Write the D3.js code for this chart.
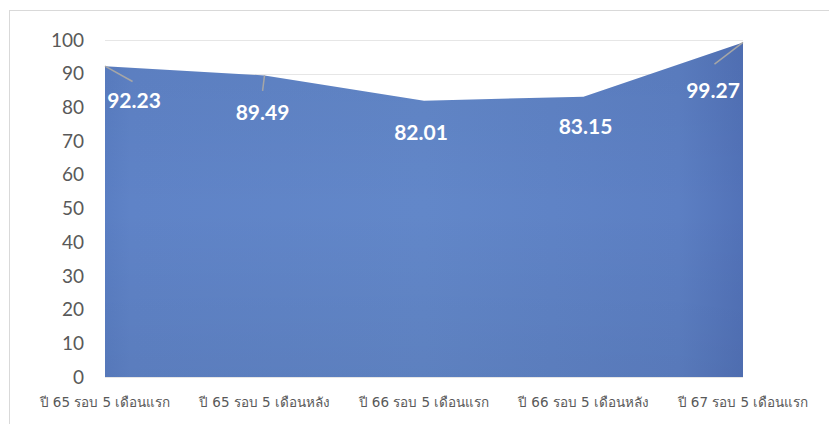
<!DOCTYPE html>
<html>
<head>
<meta charset="utf-8">
<script src="https://cdn.jsdelivr.net/npm/d3@7"></script>
<style>
  body { margin: 0; background: #fff; }
  svg { display: block; }
</style>
</head>
<body>
<svg width="829" height="424"></svg>
<script>
const categories = [
  "ปี 65 รอบ 5 เดือนแรก",
  "ปี 65 รอบ 5 เดือนหลัง",
  "ปี 66 รอบ 5 เดือนแรก",
  "ปี 66 รอบ 5 เดือนหลัง",
  "ปี 67 รอบ 5 เดือนแรก"
];
const values = [92.23, 89.49, 82.01, 83.15, 99.27];
const yTicks = [0, 10, 20, 30, 40, 50, 60, 70, 80, 90, 100];

// label placement (pixel offsets from the point) and whether a leader line is drawn
const labelOffsets = [[29, 34], [-2, 37], [-3, 32], [2, 30], [-30, 48]];
const leaders = [true, true, false, false, true];

const svg = d3.select("svg"),
      width = +svg.attr("width"),
      height = +svg.attr("height");

const margin = {left: 105, right: 86, top: 40, bottom: 47};

svg.append("rect")
  .attr("x", 9.5).attr("y", 10.5)
  .attr("width", width).attr("height", height)
  .attr("fill", "none")
  .attr("stroke", "#d9d9d9");

const x = d3.scalePoint()
  .domain(categories)
  .range([margin.left, width - margin.right]);

const y = d3.scaleLinear()
  .domain([0, 100])
  .range([height - margin.bottom, margin.top]);

const defs = svg.append("defs");
const grad = defs.append("linearGradient")
  .attr("id", "fill")
  .attr("x1", "0%").attr("x2", "100%")
  .attr("y1", "0%").attr("y2", "0%");
grad.append("stop").attr("offset", "0%").attr("stop-color", "#5a7ec3");
grad.append("stop").attr("offset", "4%").attr("stop-color", "#5f83c7");
grad.append("stop").attr("offset", "50%").attr("stop-color", "#6287c9");
grad.append("stop").attr("offset", "90%").attr("stop-color", "#5c7fc3");
grad.append("stop").attr("offset", "100%").attr("stop-color", "#5272b8");

const gradV = defs.append("linearGradient")
  .attr("id", "shade")
  .attr("x1", "0%").attr("x2", "0%")
  .attr("y1", "0%").attr("y2", "100%");
gradV.append("stop").attr("offset", "0%").attr("stop-color", "#000").attr("stop-opacity", 0.04);
gradV.append("stop").attr("offset", "50%").attr("stop-color", "#000").attr("stop-opacity", 0);
gradV.append("stop").attr("offset", "100%").attr("stop-color", "#000").attr("stop-opacity", 0.05);

// gridlines
svg.append("g")
  .selectAll("line")
  .data(yTicks)
  .enter().append("line")
  .attr("x1", margin.left)
  .attr("x2", width - margin.right)
  .attr("y1", d => Math.round(y(d)) + 0.5)
  .attr("y2", d => Math.round(y(d)) + 0.5)
  .attr("stroke", "#e6e6e6");

const area = d3.area()
  .x((d, i) => x(categories[i]))
  .y0(y(0))
  .y1(d => y(d));

svg.append("path")
  .datum(values)
  .attr("d", area)
  .attr("fill", "url(#fill)");

svg.append("path")
  .datum(values)
  .attr("d", area)
  .attr("fill", "url(#shade)");

// y axis labels
svg.append("g")
  .selectAll("text")
  .data(yTicks)
  .enter().append("text")
  .attr("x", 84)
  .attr("y", d => y(d))
  .attr("dy", "0.35em")
  .attr("text-anchor", "end")
  .attr("font-family", "Lato, 'Open Sans', sans-serif")
  .attr("font-size", 19)
  .attr("fill", "#595959")
  .text(d => d);

// x axis labels
svg.append("g")
  .selectAll("text")
  .data(categories)
  .enter().append("text")
  .attr("x", d => x(d))
  .attr("y", 407)
  .attr("text-anchor", "middle")
  .attr("font-family", "'DejaVu Sans', sans-serif")
  .attr("font-size", 13.5)
  .attr("fill", "#595959")
  .text(d => d);

// leader lines
svg.append("g")
  .selectAll("line")
  .data(values.map((v, i) => ({v, i})).filter(d => leaders[d.i]))
  .enter().append("line")
  .attr("x1", d => x(categories[d.i]))
  .attr("y1", d => y(d.v))
  .attr("x2", d => x(categories[d.i]) + labelOffsets[d.i][0] * 0.95)
  .attr("y2", d => y(d.v) + labelOffsets[d.i][1] * (d.i === 1 ? 0.42 : 0.45))
  .attr("stroke", "#a6a6a6")
  .attr("stroke-width", 1.5);

// data labels
svg.append("g")
  .selectAll("text")
  .data(values)
  .enter().append("text")
  .attr("x", (d, i) => x(categories[i]) + labelOffsets[i][0])
  .attr("y", (d, i) => y(d) + labelOffsets[i][1])
  .attr("dy", "0.35em")
  .attr("text-anchor", "middle")
  .attr("font-family", "Lato, 'Open Sans', sans-serif")
  .attr("font-weight", "bold")
  .attr("font-size", 21)
  .attr("fill", "#ffffff")
  .text(d => d.toFixed(2));
</script>
</body>
</html>
